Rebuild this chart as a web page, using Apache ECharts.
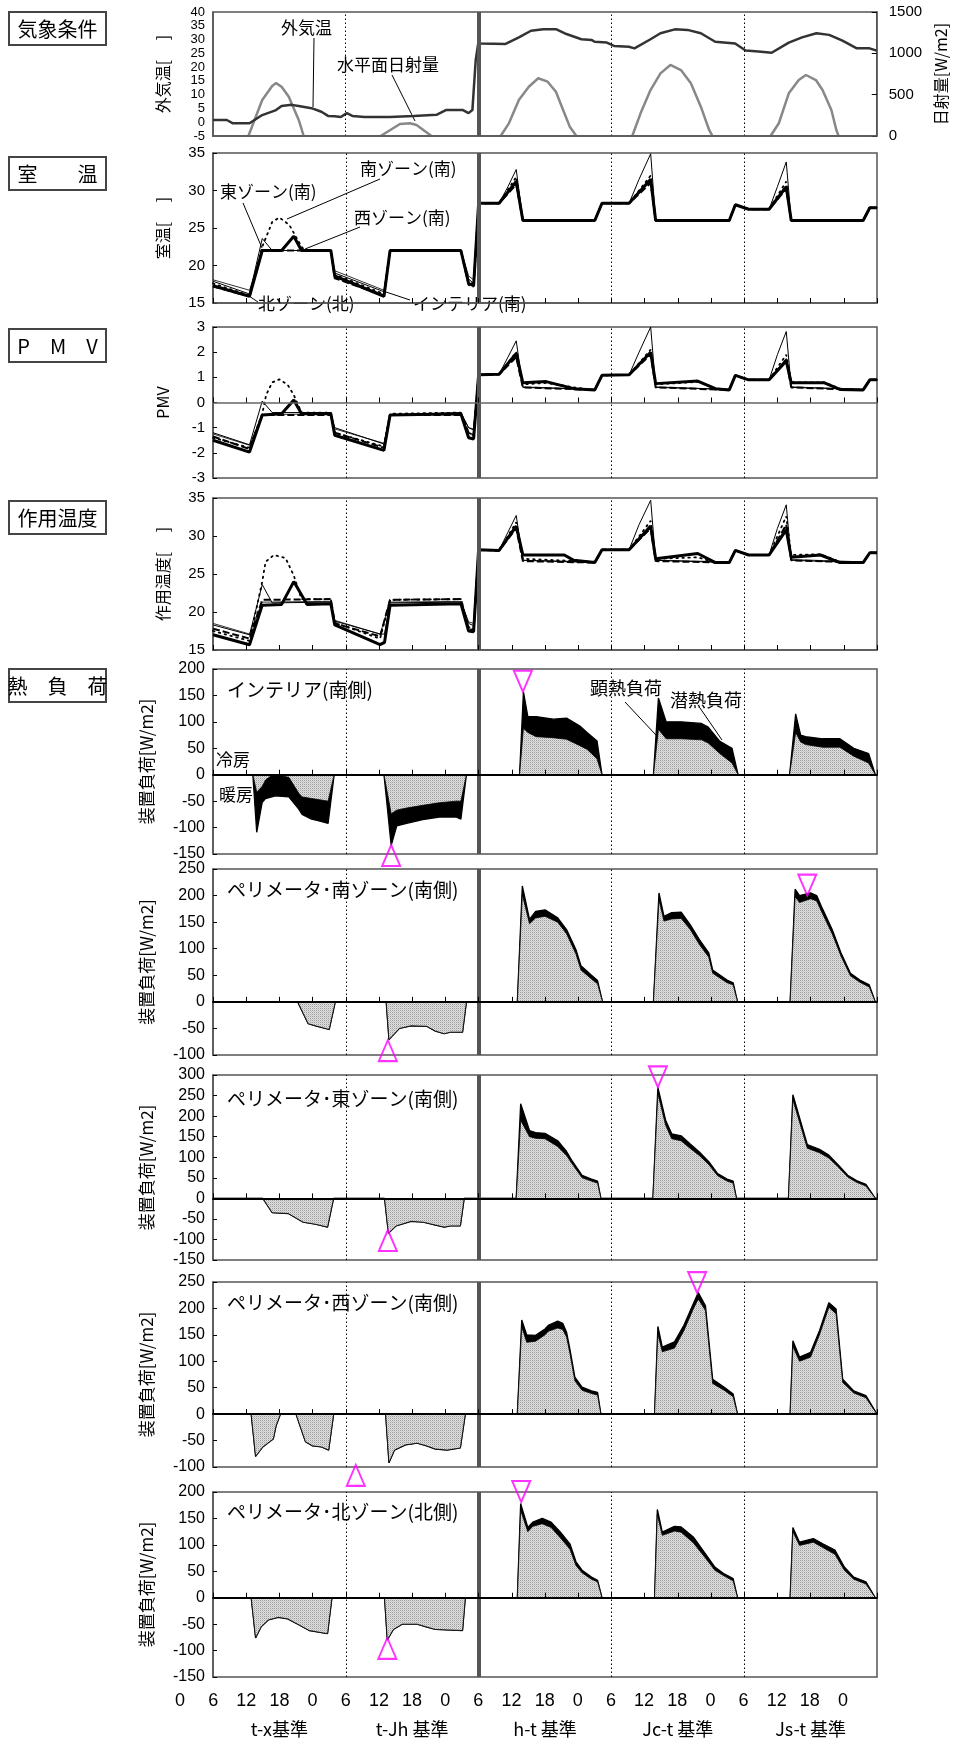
<!DOCTYPE html>
<html>
<head>
<meta charset="utf-8">
<script src="https://cdn.jsdelivr.net/npm/echarts@6/dist/echarts.min.js"></script>
<style>
html,body{margin:0;padding:0;background:#fff;}
#c{width:957px;height:1742px;}
</style>
</head>
<body>
<div id="c"></div>
<script>
// ---- time axis: hours from 0:00 of the first day, five days ----
const hourLabels = ['0','6','12','18','0','6','12','18','0','6','12','18','0','6','12','18','0','6','12','18','0'];
const caseLabels = ['t-x基準','t-Jh 基準','h-t 基準','Jc-t 基準','Js-t 基準'];
const dayBounds = [24, 48, 72, 96];

// ---- 気象条件 ----
const outdoorTemp = [[0,0.8],[2.5,0.8],[3.6,-0.4],[6.6,-0.4],[8.9,2.6],[11.4,4.4],[12.4,5.9],[14.2,6.3],[15.5,5.9],[17.8,5.1],[19.6,3.8],[20.8,2.3],[22,2.2],[23.1,1.9],[24.2,3.3],[25.2,2.3],[27.4,1.9],[32,1.9],[36.3,2.3],[40.4,2.7],[42.1,4.4],[45.2,4.4],[46.2,3.3],[46.9,4.4],[47.5,22.6],[48,29.2],[48.4,28.6],[52.9,28.4],[55.3,30.8],[57.5,33.2],[59.7,33.7],[62.1,33.7],[63.9,32],[66.6,30.1],[68.5,29.8],[69,29.2],[71.2,28.9],[72.5,27.7],[75.2,27.4],[76.2,26.8],[79.1,30.1],[80.9,32.3],[83.5,33.7],[85.8,33.5],[88.2,32.3],[90.8,29.2],[94.4,28.6],[96.3,26],[98.6,25.7],[101,25.2],[104.1,28.9],[106.5,30.8],[109.1,32.3],[111.4,31.7],[113.8,29.6],[116.4,26.8],[118.7,26.8],[120,26]];
const solarDays = [
  [[6.4,0],[8.9,435],[10.7,605],[11.4,640],[12.4,596],[13.7,475],[15.5,194],[16.4,0]],
  [[30.3,0],[33.8,145],[35.6,155],[36.8,133],[39.5,0]],
  [[52,0],[53.5,153],[55.3,435],[57.1,596],[58.8,698],[60.5,657],[62,536],[63.3,315],[64.5,113],[65.7,0]],
  [[75.8,0],[77.3,274],[79.1,556],[80.9,758],[82.7,859],[84.6,798],[86.4,637],[88.2,355],[89.7,73],[90.3,0]],
  [[100.8,0],[102.3,154],[104.1,516],[105.9,677],[107.2,738],[109,677],[110.2,556],[111.8,315],[112.7,73],[113.1,0]]
];

// ---- 室温 [℃] ----
const roomWest = [[0,17.3],[6.6,15.9],[8.9,22],[12.4,22],[14.6,23.9],[16,22],[21.3,22],[22,18.6],[30.9,15.9],[32,22],[44.8,22],[46.2,17.6],[47.1,17.3],[48,28.3],[51.7,28.3],[54.8,31.2],[56,26],[69,26],[70.3,28.3],[75.2,28.3],[79.1,31.5],[80,26],[93.3,26],[94.4,28.1],[96.8,27.5],[100.5,27.5],[103.6,30.5],[104.5,26],[117.5,26],[118.7,27.7],[120,27.7]];
const roomEast = [[0,17.9],[6.6,16.2],[8.9,23.6],[10.7,22],[21.3,22],[22,19],[30.9,16.5],[32,22],[44.8,22],[46.2,18.2],[47.1,17.6],[48,28.3],[51.7,28.3],[53.3,30.5],[54.8,32.8],[56,26],[69,26],[70.3,28.3],[75.2,28.3],[77,31.5],[79.1,34.9],[80,26],[93.3,26],[94.4,28.1],[96.8,27.5],[100.5,27.5],[102,30.5],[103.6,33.8],[104.5,26],[117.5,26],[118.7,27.7],[120,27.7]];
const roomSouth = [[0,17.6],[6.6,16],[8.9,22.5],[10.7,25.8],[12,26.4],[13.8,25.4],[16,22.5],[16.6,22],[21.3,22],[22,18.8],[30.9,16.2],[32,22],[44.8,22],[46.2,17.8],[47.1,17.5],[48,28.3],[51.7,28.3],[54.8,31.8],[56,26],[69,26],[70.3,28.3],[75.2,28.3],[79.1,32],[80,26],[93.3,26],[94.4,28.1],[96.8,27.5],[100.5,27.5],[103.6,31.2],[104.5,26],[117.5,26],[118.7,27.7],[120,27.7]];
const roomNorth = [[0,17.2],[6.6,15.9],[8.9,22],[21.3,22],[22,18.3],[30.9,16],[32,22],[44.8,22],[46.2,17.4],[47.1,17.2],[48,28.3],[51.7,28.3],[54.8,30.8],[56,26],[69,26],[70.3,28.3],[75.2,28.3],[79.1,31],[80,26],[93.3,26],[94.4,28.1],[96.8,27.5],[100.5,27.5],[103.6,30.2],[104.5,26],[117.5,26],[118.7,27.7],[120,27.7]];
const roomInterior = [[0,18.1],[6.6,16.7],[8.9,22],[21.3,22],[22,19.3],[30.9,16.7],[32,22],[44.8,22],[46.2,18.6],[47.1,18.1],[48,28.3],[51.7,28.3],[54.8,31],[56,26],[69,26],[70.3,28.3],[75.2,28.3],[79.1,31.2],[80,26],[93.3,26],[94.4,28.1],[96.8,27.5],[100.5,27.5],[103.6,30.4],[104.5,26],[117.5,26],[118.7,27.7],[120,27.7]];

// ---- PMV ----
const pmvWest = [[0,-1.5],[6.6,-1.97],[8.9,-0.5],[12.4,-0.45],[14.6,0.1],[16,-0.45],[21.3,-0.45],[22,-1.3],[30.9,-1.9],[32,-0.5],[44.8,-0.45],[46.2,-1.4],[47.1,-1.45],[48,1.1],[51.7,1.12],[54.8,1.95],[56,0.78],[60.2,0.83],[65.2,0.55],[69,0.5],[70.3,1.08],[75.2,1.1],[79.1,2.0],[80,0.75],[87.6,0.85],[90.8,0.55],[93.3,0.5],[94.4,1.08],[96.8,0.9],[100.5,0.9],[103.6,1.65],[104.5,0.78],[110.5,0.78],[113.3,0.52],[117.5,0.5],[118.7,0.9],[120,0.9]];
const pmvEast = [[0,-1.2],[6.6,-1.68],[8.9,0.06],[10.7,-0.4],[21.3,-0.4],[22,-1.0],[30.9,-1.65],[32,-0.5],[44.8,-0.4],[46.2,-1.0],[47.1,-1.1],[48,1.1],[51.7,1.12],[53.3,1.8],[54.8,2.45],[56,0.6],[69,0.52],[70.3,1.08],[75.2,1.1],[77,2.0],[79.1,3.0],[80,0.6],[93.3,0.52],[94.4,1.08],[96.8,0.9],[100.5,0.9],[102,1.9],[103.6,2.82],[104.5,0.6],[117.5,0.52],[118.7,0.9],[120,0.9]];
const pmvSouth = [[0,-1.4],[6.6,-1.8],[8.9,-0.45],[9.6,0.3],[10.7,0.8],[12,0.92],[13.5,0.7],[14.6,0.3],[16,-0.4],[21.3,-0.4],[22,-1.2],[30.9,-1.75],[32,-0.45],[44.8,-0.4],[46.2,-1.2],[47.1,-1.3],[48,1.1],[51.7,1.12],[54.8,2.0],[56,0.72],[60.2,0.78],[65.2,0.6],[69,0.5],[70.3,1.08],[75.2,1.1],[79.1,2.1],[80,0.72],[87.6,0.82],[90.8,0.55],[93.3,0.5],[94.4,1.08],[96.8,0.9],[100.5,0.9],[103.6,1.9],[104.5,0.8],[110.5,0.8],[113.3,0.55],[117.5,0.5],[118.7,0.9],[120,0.9]];
const pmvNorth = [[0,-1.35],[6.6,-1.85],[8.9,-0.5],[21.3,-0.5],[22,-1.2],[30.9,-1.8],[32,-0.5],[44.8,-0.5],[46.2,-1.2],[47.1,-1.3],[48,1.1],[51.7,1.12],[54.8,1.8],[56,0.6],[69,0.5],[70.3,1.08],[75.2,1.1],[79.1,1.9],[80,0.6],[93.3,0.5],[94.4,1.08],[96.8,0.9],[100.5,0.9],[103.6,1.7],[104.5,0.6],[117.5,0.5],[118.7,0.9],[120,0.9]];
const pmvInterior = [[0,-1.25],[6.6,-1.7],[8.9,-0.48],[21.3,-0.45],[22,-1.05],[30.9,-1.62],[32,-0.48],[44.8,-0.45],[46.2,-1.0],[47.1,-1.05],[48,1.1],[51.7,1.12],[54.8,1.9],[56,0.62],[69,0.52],[70.3,1.08],[75.2,1.1],[79.1,1.95],[80,0.62],[93.3,0.52],[94.4,1.08],[96.8,0.9],[100.5,0.9],[103.6,1.75],[104.5,0.62],[117.5,0.52],[118.7,0.9],[120,0.9]];

// ---- 作用温度 [℃] ----
const opWest = [[0,17],[6.6,15.7],[8.9,20.9],[12.4,21],[14.6,24],[17,21],[21.3,21.1],[22,18.3],[30.2,15.7],[31,16],[32,20.9],[44.8,21.1],[46.2,17.5],[47.1,17.4],[48,28.2],[51.7,28.1],[54.8,31.3],[56,27.5],[63.5,27.5],[65.2,26.8],[69,26.5],[70.3,28.2],[75.2,28.2],[79.1,31.3],[80,27],[87.6,27.7],[90.8,26.5],[93.3,26.5],[94.4,28.1],[96.8,27.5],[100.5,27.5],[103.6,30.8],[104.5,27.2],[109.8,27.5],[113.3,26.5],[117.5,26.5],[118.7,27.8],[120,27.8]];
const opEast = [[0,18.3],[6.6,17],[8.9,23.6],[10.7,21.2],[21.3,21.3],[22,18.8],[30.2,17.1],[31,17.1],[32,21.2],[44.8,21.3],[46.2,18.5],[47.1,18.2],[48,28.2],[51.7,28.1],[53.3,30.5],[54.8,32.7],[56,26.8],[69,26.5],[70.3,28.2],[75.2,28.2],[77,31.5],[79.1,34.7],[80,26.8],[93.3,26.5],[94.4,28.1],[96.8,27.5],[100.5,27.5],[102,31],[103.6,34.1],[104.5,26.8],[117.5,26.5],[118.7,27.8],[120,27.8]];
const opSouth = [[0,17.5],[6.6,16.2],[8.9,24],[9.5,26.6],[11,27.5],[13.1,27.1],[13.7,26.2],[14.6,24.8],[16,21.7],[21.3,21.7],[22,18.6],[30.2,16.5],[32,21.6],[44.8,21.7],[46.2,18],[47.1,17.8],[48,28.2],[51.7,28.1],[54.8,31.8],[56,27],[69,26.6],[70.3,28.2],[75.2,28.2],[79.1,32],[80,27],[87.6,27.2],[90.8,26.5],[93.3,26.5],[94.4,28.1],[96.8,27.5],[100.5,27.5],[103.6,32.6],[104.5,27.5],[109.8,27.6],[113.3,26.6],[117.5,26.5],[118.7,27.8],[120,27.8]];
const opNorth = [[0,17.8],[6.6,16.5],[8.9,21.6],[21.3,21.7],[22,18.5],[30.2,16.8],[32,21.6],[44.8,21.7],[46.2,17.8],[47.1,17.6],[48,28.2],[51.7,28.1],[54.8,31],[56,26.7],[69,26.5],[70.3,28.2],[75.2,28.2],[79.1,31],[80,26.7],[93.3,26.5],[94.4,28.1],[96.8,27.5],[100.5,27.5],[103.6,31.5],[104.5,26.8],[117.5,26.5],[118.7,27.8],[120,27.8]];
const opInterior = [[0,18.5],[6.6,17.1],[8.9,21.3],[21.3,21.4],[22,18.9],[30.2,17.1],[32,21.3],[44.8,21.4],[46.2,18.7],[47.1,18.5],[48,28.2],[51.7,28.1],[54.8,31],[56,26.8],[69,26.6],[70.3,28.2],[75.2,28.2],[79.1,31.2],[80,26.8],[93.3,26.6],[94.4,28.1],[96.8,27.5],[100.5,27.5],[103.6,31.2],[104.5,26.9],[117.5,26.6],[118.7,27.8],[120,27.8]];

// ---- 装置負荷 [W/m2]: 顕熱 (sensible) and 顕熱+潜熱 (total) ----
const interiorSensible = [[0,0],[7.2,0],[7.9,-33],[8.9,-22],[9.5,-10],[10.5,-2],[11.3,0],[13.7,-5],[15.5,-35],[16.1,-42],[17.8,-45],[19,-47],[20.8,-50],[21.1,-52],[21.9,0],[30.9,0],[32.2,-74],[33.2,-67],[35,-63],[37.9,-58],[40.9,-53],[43.9,-50],[44.8,-50],[45.8,0],[55.4,0],[56.1,88],[56.9,80],[58.4,72],[61.5,70],[63.9,67],[66.3,55],[67.6,48],[69.4,30],[70.3,0],[79.6,0],[80.5,86],[81.9,68],[84.6,68],[88.3,66],[89.5,60],[91.6,40],[93.8,22],[94.9,0],[104.2,0],[105.3,80],[106.2,62],[107.1,57],[110.2,52],[113.3,52],[115.8,35],[118.5,22],[119.7,0],[120,0]];
const interiorTotal = [[0,0],[7.2,0],[7.9,-109],[8.9,-52],[9.5,-45],[11.3,-40],[13.7,-42],[15.5,-65],[16.1,-75],[17.8,-84],[19,-87],[20.8,-92],[21.1,-92],[21.9,0],[30.9,0],[32.2,-134],[33.2,-97],[35,-92],[37.9,-85],[40.9,-80],[43.9,-80],[44.8,-84],[45.8,0],[55.4,0],[56.1,157],[56.9,110],[58.4,110],[61.5,105],[63.9,107],[66.3,92],[67.6,80],[69.4,64],[70.3,0],[79.6,0],[80.5,145],[81.9,100],[84.6,100],[88.3,97],[89.5,90],[91.6,63],[93.8,50],[94.9,0],[104.2,0],[105.3,115],[106.2,75],[107.1,72],[110.2,68],[113.3,68],[115.8,50],[118.5,40],[119.7,0],[120,0]];

const southSensible = [[0,0],[15.3,0],[17.2,-41],[18.5,-45],[21,-52],[22.1,0],[31.3,0],[31.8,-71],[33.7,-50],[35.8,-45],[38.6,-46],[40.2,-55],[41.8,-60],[42.9,-57],[45.1,-57],[45.8,0],[55,0],[55.9,202],[57.2,147],[58.3,158],[60,161],[62.3,150],[63.9,128],[65.6,90],[66.5,60],[68.4,43],[69.5,34],[70.4,0],[79.6,0],[80.6,192],[81.5,152],[82.9,156],[84.6,157],[86.2,137],[87.9,108],[89.6,84],[90.3,54],[92.9,36],[94,32],[94.8,0],[104.3,0],[105.2,198],[106,187],[108,194],[109.1,190],[110.2,165],[111.9,128],[113.5,86],[115.2,49],[116.9,37],[118.6,28],[119.7,0],[120,0]];
const southTotal = [[0,0],[15.3,0],[17.2,-41],[18.5,-45],[21,-52],[22.1,0],[31.3,0],[31.8,-71],[33.7,-50],[35.8,-45],[38.6,-46],[40.2,-55],[41.8,-60],[42.9,-57],[45.1,-57],[45.8,0],[55,0],[55.9,218],[57.2,155],[58.3,170],[60,173],[62.3,158],[63.9,136],[65.6,98],[66.5,68],[68.4,50],[69.5,40],[70.4,0],[79.6,0],[80.6,205],[81.5,161],[82.9,168],[84.6,169],[86.2,146],[87.9,117],[89.6,92],[90.3,60],[92.9,41],[94,36],[94.8,0],[104.3,0],[105.2,212],[106,200],[108,205],[109.1,200],[110.2,174],[111.9,136],[113.5,92],[115.2,54],[116.9,41],[118.6,32],[119.7,0],[120,0]];

const eastSensible = [[0,0],[9,0],[10.7,-35],[13.6,-37],[15.3,-50],[16.3,-58],[18.5,-63],[20.7,-70],[21.8,0],[31,0],[31.7,-85],[33.1,-67],[35.8,-56],[38,-58],[40.2,-65],[41.8,-70],[42.9,-67],[44.7,-67],[45.4,0],[54.8,0],[55.6,190],[57.2,150],[58.3,146],[60,145],[62.3,126],[63.9,104],[65,82],[66.7,50],[68.4,42],[69.5,37],[70.1,0],[79.5,0],[80.4,255],[81.8,178],[82.9,145],[84.6,140],[86.2,122],[87.9,104],[89.6,82],[91.2,55],[92.9,42],[94,37],[94.6,0],[104,0],[104.8,240],[107.4,122],[109.6,111],[111.3,98],[113,76],[114.7,52],[116.3,39],[118,30],[119.7,0],[120,0]];
const eastTotal = [[0,0],[9,0],[10.7,-35],[13.6,-37],[15.3,-50],[16.3,-58],[18.5,-63],[20.7,-70],[21.8,0],[31,0],[31.7,-85],[33.1,-67],[35.8,-56],[38,-58],[40.2,-65],[41.8,-70],[42.9,-67],[44.7,-67],[45.4,0],[54.8,0],[55.6,230],[57.2,165],[58.3,160],[60,158],[62.3,140],[63.9,114],[65,89],[66.7,56],[68.4,47],[69.5,42],[70.1,0],[79.5,0],[80.4,270],[81.8,190],[82.9,157],[84.6,152],[86.2,133],[87.9,113],[89.6,89],[91.2,60],[92.9,47],[94,42],[94.6,0],[104,0],[104.8,252],[107.4,131],[109.6,119],[111.3,105],[113,81],[114.7,56],[116.3,43],[118,34],[119.7,0],[120,0]];

const westSensible = [[0,0],[6.9,0],[7.7,-80],[9,-62],[10.4,-51],[10.9,-47],[11.4,-22],[12.2,0],[15,0],[16.7,-52],[18,-60],[19.6,-62],[20.9,-68],[21.8,0],[31.2,0],[31.8,-92],[32.8,-68],[34.8,-58],[36.9,-55],[38.6,-60],[40.2,-66],[42.3,-68],[44.7,-64],[45.6,0],[55,0],[55.8,165],[56.7,136],[58.3,138],[60,150],[60.6,157],[62.3,163],[63.2,160],[63.9,146],[64.5,115],[65.4,63],[66.7,45],[68.4,39],[69.5,36],[70.1,0],[79.8,0],[80.4,152],[81.2,118],[83.4,125],[85.1,158],[86.8,199],[87.7,218],[89,196],[90.3,58],[92.4,45],[94,33],[94.8,0],[104.3,0],[104.8,128],[106,100],[108,108],[109.6,150],[111.3,202],[112.6,190],[113.8,60],[115.8,40],[118,31],[120,0]];
const westTotal = [[0,0],[6.9,0],[7.7,-80],[9,-62],[10.4,-51],[10.9,-47],[11.4,-22],[12.2,0],[15,0],[16.7,-52],[18,-60],[19.6,-62],[20.9,-68],[21.8,0],[31.2,0],[31.8,-92],[32.8,-68],[34.8,-58],[36.9,-55],[38.6,-60],[40.2,-66],[42.3,-68],[44.7,-64],[45.6,0],[55,0],[55.8,178],[56.7,150],[58.3,149],[60,161],[60.6,168],[62.3,176],[63.2,172],[63.9,155],[64.5,123],[65.4,70],[66.7,51],[68.4,44],[69.5,41],[70.1,0],[79.8,0],[80.4,166],[81.2,127],[83.4,137],[85.1,168],[86.8,209],[87.7,230],[89,205],[90.3,66],[92.4,51],[94,38],[94.8,0],[104.3,0],[104.8,139],[106,108],[108,117],[109.6,158],[111.3,211],[112.6,199],[113.8,66],[115.8,44],[118,35],[120,0]];

const northSensible = [[0,0],[6.9,0],[7.7,-76],[8.7,-55],[10,-42],[11.8,-37],[13.5,-40],[15.3,-50],[17.4,-62],[20.7,-68],[21.5,0],[31,0],[31.5,-80],[32.6,-60],[34.2,-50],[36.9,-50],[38.5,-55],[40.2,-60],[45.1,-62],[45.6,0],[55,0],[55.6,165],[56.9,125],[57.8,135],[59.5,140],[61.1,133],[62.8,113],[64.5,92],[65.6,61],[66.7,47],[68.4,35],[69.5,30],[70.3,0],[79.8,0],[80.3,157],[81.2,118],[83.4,126],[84.6,124],[86.8,104],[89,75],[90.7,52],[92.4,41],[94,32],[94.8,0],[104.3,0],[104.8,125],[106,99],[108.5,105],[110.2,95],[112.4,82],[114.1,52],[115.8,35],[118,26],[119.7,0],[120,0]];
const northTotal = [[0,0],[6.9,0],[7.7,-76],[8.7,-55],[10,-42],[11.8,-37],[13.5,-40],[15.3,-50],[17.4,-62],[20.7,-68],[21.5,0],[31,0],[31.5,-80],[32.6,-60],[34.2,-50],[36.9,-50],[38.5,-55],[40.2,-60],[45.1,-62],[45.6,0],[55,0],[55.6,178],[56.9,133],[57.8,143],[59.5,150],[61.1,143],[62.8,124],[64.5,102],[65.6,68],[66.7,52],[68.4,39],[69.5,33],[70.3,0],[79.8,0],[80.3,167],[81.2,124],[83.4,135],[84.6,134],[86.8,115],[89,83],[90.7,58],[92.4,45],[94,36],[94.8,0],[104.3,0],[104.8,133],[106,105],[108.5,112],[110.2,102],[112.4,90],[114.1,58],[115.8,39],[118,30],[119.7,0],[120,0]];

// peak-load markers [h, W/m2]: cooling peak (▽) and heating peak (△)
const interiorPeakCool = [[56,157]],  interiorPeakHeat = [[32.2,-133]];
const southPeakCool    = [[107.4,200]], southPeakHeat   = [[31.6,-72]];
const eastPeakCool     = [[80.4,270]],  eastPeakHeat    = [[31.6,-77]];
const westPeakCool     = [[87.5,229]],  westPeakHeat    = [[25.8,-96]];
const northPeakCool    = [[55.7,181]],  northPeakHeat   = [[31.5,-76]];

// ------------------------------------------------------------------
const JP = '"Noto Sans CJK JP","Noto Sans",sans-serif';
const NUM = '"Liberation Sans",Arial,sans-serif';

// fine stipple used for the sensible-load fill
function stipple() {
  const c = document.createElement('canvas');
  c.width = 2; c.height = 2;
  const g = c.getContext('2d');
  g.fillStyle = '#e2e2e2'; g.fillRect(0, 0, 2, 2);
  g.fillStyle = '#9a9a9a'; g.fillRect(0, 0, 1, 1);
  g.fillStyle = '#c4c4c4'; g.fillRect(1, 1, 1, 1);
  return c;
}
const dotFill = { image: stipple(), repeat: 'repeat' };

const panels = [
  { top: 12,   h: 124, min: -5,   max: 40,  step: 5,  name: '外気温[　 ]',  gap: 42, axis: 'frame', ticks: false, nameSize: 16, labelSize: 13 },
  { top: 153,  h: 150, min: 15,   max: 35,  step: 5,  name: '室温[　 ]',    gap: 42, axis: 'frame', ticks: true,  nameSize: 16, labelSize: 15 },
  { top: 327,  h: 151, min: -3,   max: 3,   step: 1,  name: 'PMV',          gap: 42, axis: 'gray',  ticks: true,  nameSize: 16, labelSize: 15 },
  { top: 498,  h: 152, min: 15,   max: 35,  step: 5,  name: '作用温度[　 ]', gap: 42, axis: 'frame', ticks: true,  nameSize: 16, labelSize: 15 },
  { top: 669,  h: 185, min: -150, max: 200, step: 50, name: '装置負荷[W/m2]', gap: 58, axis: 'black', ticks: true, nameSize: 17, labelSize: 16 },
  { top: 869,  h: 186, min: -100, max: 250, step: 50, name: '装置負荷[W/m2]', gap: 58, axis: 'black', ticks: true, nameSize: 17, labelSize: 16 },
  { top: 1075, h: 185, min: -150, max: 300, step: 50, name: '装置負荷[W/m2]', gap: 58, axis: 'black', ticks: true, nameSize: 17, labelSize: 16 },
  { top: 1282, h: 185, min: -100, max: 250, step: 50, name: '装置負荷[W/m2]', gap: 58, axis: 'black', ticks: true, nameSize: 17, labelSize: 16 },
  { top: 1492, h: 185, min: -150, max: 200, step: 50, name: '装置負荷[W/m2]', gap: 58, axis: 'black', ticks: true, nameSize: 17, labelSize: 16 }
];

const grids = [], xAxes = [], yAxes = [], series = [];

panels.forEach((p, i) => {
  grids.push({ left: 213, width: 664, top: p.top, height: p.h, show: true, borderColor: '#555', borderWidth: 1.5, backgroundColor: 'transparent' });
  xAxes.push({
    gridIndex: i, type: 'value', min: 0, max: 120, interval: 6, z: 5,
    axisLabel: { show: false }, splitLine: { show: false },
    axisTick: { show: p.ticks, inside: true, length: 5, lineStyle: { color: '#000', width: 1 } },
    axisLine: { show: true, onZero: p.axis !== 'frame',
      lineStyle: { color: p.axis === 'black' ? '#000' : (p.axis === 'gray' ? '#666' : '#555'), width: p.axis === 'black' ? 2 : 1.5 } }
  });
  yAxes.push({
    gridIndex: i, type: 'value', min: p.min, max: p.max, interval: p.step,
    name: p.name, nameLocation: 'middle', nameGap: p.gap, nameRotate: 90,
    nameTextStyle: { fontFamily: JP, fontSize: p.nameSize, color: '#000' },
    axisLine: { show: true, lineStyle: { color: '#555', width: 1.5 } },
    axisTick: { show: i > 0, inside: true, length: 4, lineStyle: { color: '#000' } },
    axisLabel: { fontFamily: NUM, fontSize: p.labelSize, lineHeight: p.labelSize, color: '#000', margin: 8,
      showMinLabel: true, showMaxLabel: true, hideOverlap: false },
    splitLine: { show: false }
  });
});
// right axis of the weather panel (日射量)
yAxes.push({
  gridIndex: 0, type: 'value', position: 'right', min: 0, max: 1500, interval: 500,
  name: '日射量[W/m2]', nameLocation: 'middle', nameGap: 56, nameRotate: 90,
  nameTextStyle: { fontFamily: JP, fontSize: 16, color: '#000' },
  axisLine: { show: true, lineStyle: { color: '#555', width: 1.5 } },
  axisTick: { show: true, inside: true, length: 5, lineStyle: { color: '#000' } },
  axisLabel: { fontFamily: NUM, fontSize: 15, color: '#000', margin: 12,
    showMinLabel: true, showMaxLabel: true, formatter: v => String(v) },
  splitLine: { show: false }
});
const SOLAR_Y = yAxes.length - 1;

// hour-of-day labels and case names along the bottom
grids.push({ left: 180, width: 663, top: 1688, height: 2 });
xAxes.push({ gridIndex: 9, type: 'category', data: hourLabels, boundaryGap: false,
  axisLine: { show: false }, axisTick: { show: false },
  axisLabel: { interval: 0, margin: 2, fontFamily: NUM, fontSize: 18, color: '#000' } });
yAxes.push({ gridIndex: 9, type: 'value', show: false, min: 0, max: 1 });
grids.push({ left: 213, width: 664, top: 1716, height: 2 });
xAxes.push({ gridIndex: 10, type: 'category', data: caseLabels,
  axisLine: { show: false }, axisTick: { show: false },
  axisLabel: { interval: 0, margin: 2, fontFamily: JP, fontSize: 18, color: '#000' } });
yAxes.push({ gridIndex: 10, type: 'value', show: false, min: 0, max: 1 });
series.push({ type: 'line', xAxisIndex: 9, yAxisIndex: SOLAR_Y + 1, data: [] });
series.push({ type: 'line', xAxisIndex: 10, yAxisIndex: SOLAR_Y + 2, data: [] });

// day separators: dotted at midnight, heavy bar between heating and cooling cases
function separators() {
  return {
    silent: true, symbol: ['none', 'none'], label: { show: false }, animation: false,
    emphasis: { disabled: true },
    data: dayBounds.map(h => ({
      xAxis: h,
      lineStyle: h === 48 ? { color: '#555', width: 4, type: 'solid' } : { color: '#000', width: 1, type: [1.5, 2.5] }
    }))
  };
}

function line(panel, data, style, extra) {
  return Object.assign({
    type: 'line', xAxisIndex: panel, yAxisIndex: panel, data: data,
    showSymbol: false, symbol: 'none', lineStyle: style, silent: true
  }, extra || {});
}

// weather panel
series.push(line(0, outdoorTemp, { color: '#333', width: 2.5 }, { z: 4, markLine: separators() }));
solarDays.forEach(d => series.push(Object.assign(line(0, d, { color: '#888', width: 2.5 }), { yAxisIndex: SOLAR_Y, z: 3 })));

// room temperature / PMV / operative temperature panels
const zoneStyles = {
  interior: { color: '#333', width: 1 },
  north: { color: '#000', width: 2, type: [7, 3] },
  south: { color: '#000', width: 1.8, type: [1.5, 4.5], cap: 'round' },
  east: { color: '#000', width: 1 },
  west: { color: '#000', width: 3 }
};
[[1, roomInterior, roomNorth, roomSouth, roomEast, roomWest],
 [2, pmvInterior, pmvNorth, pmvSouth, pmvEast, pmvWest],
 [3, opInterior, opNorth, opSouth, opEast, opWest]].forEach(([p, inr, nor, sou, eas, wes]) => {
  series.push(line(p, inr, zoneStyles.interior, { z: 2 }));
  series.push(line(p, nor, zoneStyles.north, { z: 2 }));
  series.push(line(p, sou, zoneStyles.south, { z: 2 }));
  series.push(line(p, eas, zoneStyles.east, { z: 3 }));
  series.push(line(p, wes, zoneStyles.west, { z: 4, markLine: separators() }));
});

// heat-load panels
const loads = [
  [4, interiorSensible, interiorTotal, interiorPeakCool, interiorPeakHeat],
  [5, southSensible, southTotal, southPeakCool, southPeakHeat],
  [6, eastSensible, eastTotal, eastPeakCool, eastPeakHeat],
  [7, westSensible, westTotal, westPeakCool, westPeakHeat],
  [8, northSensible, northTotal, northPeakCool, northPeakHeat]
];
loads.forEach(([p, sens, total, cool, heat]) => {
  series.push(line(p, total, { color: '#000', width: 1.3 }, { z: 2, areaStyle: { color: '#000', opacity: 1 } }));
  series.push(line(p, sens, { color: '#000', width: 0.8 }, { z: 3, areaStyle: { color: dotFill, opacity: 1 }, markLine: separators() }));
  const tri = { color: 'rgba(255,255,255,0)', borderColor: '#ff00ff', borderWidth: 2 };
  series.push({ type: 'scatter', xAxisIndex: p, yAxisIndex: p, data: cool, symbol: 'triangle', symbolRotate: 180,
    symbolSize: [18, 21], symbolOffset: [0, -10.5], clip: false, silent: true, itemStyle: tri, z: 10 });
  series.push({ type: 'scatter', xAxisIndex: p, yAxisIndex: p, data: heat, symbol: 'triangle',
    symbolSize: [18, 21], symbolOffset: [0, 10.5], clip: false, silent: true, itemStyle: tri, z: 10 });
});

// ---- headings, callouts and leader lines ----
const graphics = [];
function box(y, label) {
  graphics.push({ type: 'rect', shape: { x: 9, y: y, width: 97, height: 33 }, style: { fill: '#fff', stroke: '#444', lineWidth: 2 } });
  graphics.push({ type: 'text', x: 57.5, y: y + 17, style: { text: label, fontFamily: JP, fontSize: 20, fill: '#000', align: 'center', verticalAlign: 'middle' } });
}
function txt(x, y, s, size) {
  graphics.push({ type: 'text', x: x, y: y, style: { text: s, fontFamily: JP, fontSize: size, fill: '#000', align: 'left', verticalAlign: 'middle' } });
}
function lead(x1, y1, x2, y2) {
  graphics.push({ type: 'line', shape: { x1: x1, y1: y1, x2: x2, y2: y2 }, style: { stroke: '#000', lineWidth: 1 } });
}
box(12, '気象条件');
box(157, '室　　温');
box(329, 'P　M　V');
box(501, '作用温度');
box(669, '熱　負　荷');

txt(281, 28, '外気温', 17);
txt(337, 65, '水平面日射量', 17);
lead(314, 38, 313, 107);
lead(392, 75, 415, 121);

txt(360, 169, '南ゾーン(南)', 17);
txt(220, 192, '東ゾーン(南)', 17);
txt(354, 218, '西ゾーン(南)', 17);
txt(258, 304, '北ゾーン(北)', 17);
txt(413, 304, 'インテリア(南)', 17);
lead(243, 203, 262, 248);
lead(380, 179, 287, 219);
lead(360, 227, 305, 249);
lead(410, 300, 383, 291);
lead(249, 296, 258, 302);

txt(227, 690, 'インテリア(南側)', 19);
txt(216, 760, '冷房', 17);
txt(219, 795, '暖房', 17);
txt(590, 688, '顕熱負荷', 18);
txt(670, 700, '潜熱負荷', 18);
lead(625, 702, 670, 750);
lead(700, 708, 722, 740);

txt(227, 890, 'ペリメータ･南ゾーン(南側)', 19);
txt(227, 1099, 'ペリメータ･東ゾーン(南側)', 19);
txt(227, 1303, 'ペリメータ･西ゾーン(南側)', 19);
txt(227, 1512, 'ペリメータ･北ゾーン(北側)', 19);

const chart = echarts.init(document.getElementById('c'), null, { renderer: 'canvas', width: 957, height: 1742 });
chart.setOption({
  animation: false,
  backgroundColor: '#fff',
  grid: grids,
  xAxis: xAxes,
  yAxis: yAxes,
  series: series,
  graphic: graphics
});
</script>
</body>
</html>
